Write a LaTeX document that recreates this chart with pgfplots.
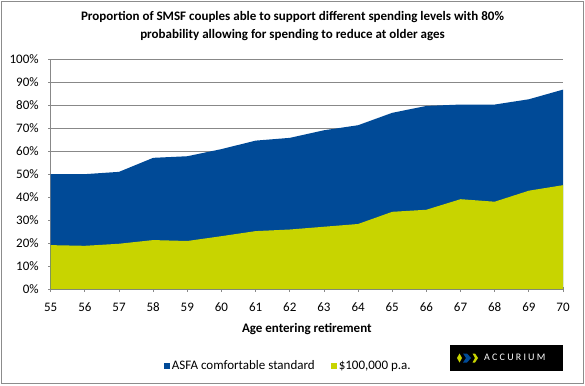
\documentclass[border=0pt]{standalone}
\usepackage{pgfplots}
\pgfplotsset{compat=1.18}
\usepackage{fontspec}
\setmainfont{Carlito}
\definecolor{asfablue}{HTML}{004A97}
\definecolor{pagreen}{HTML}{C8D400}
\definecolor{gridgray}{HTML}{888888}
\definecolor{bordergray}{HTML}{8C8C8C}
\begin{document}
\begin{tikzpicture}[x=1bp,y=1bp]
\path[use as bounding box] (0,0) rectangle (585,385);
\draw[bordergray, line width=1.2bp] (1.5,1.5) rectangle (583.5,383.5);
\begin{axis}[
  at={(50.7bp,96bp)}, anchor=south west,
  scale only axis, width=512.3bp, height=229.7bp,
  xmin=55, xmax=70, ymin=0, ymax=100,
  xtick={55,...,70}, ytick={0,10,...,100},
  yticklabel={\pgfmathprintnumber{\tick}\%},
  /pgf/number format/assume math mode=true,
  ticklabel style={font=\fontsize{13bp}{15bp}\selectfont, text=black},
  xticklabel style={yshift=-8bp},
  yticklabel style={xshift=-6bp},
  tick align=outside, major tick length=5bp,
  tick style={gridgray, line width=0.8bp},
  axis x line=bottom, axis y line=left,
  axis line style={gridgray, line width=0.8bp, -},
  ymajorgrids, grid style={gridgray, line width=0.8bp},
  xlabel={\bfseries Age entering retirement},
  xlabel style={font=\fontsize{13bp}{15bp}\selectfont, yshift=-5bp},
  legend columns=2,
  legend style={draw=none, fill=none, at={(110bp,-77bp)}, anchor=west,
    font=\fontsize{13bp}{15bp}\selectfont,
    /tikz/every even column/.append style={column sep=14bp}},
  legend image code/.code={\fill[#1] (0bp,-3bp) rectangle (6bp,3bp);},
]
\addplot[fill=asfablue, draw=none] coordinates {
(55,50.0) (56,50.0) (57,51.0) (58,57.1) (59,57.8) (60,60.9) (61,64.6) (62,65.8)
(63,69.1) (64,71.3) (65,76.7) (66,79.7) (67,80.3) (68,80.3) (69,82.6) (70,86.8)
} \closedcycle;
\addlegendentry{ASFA comfortable standard}
\addplot[fill=pagreen, draw=none] coordinates {
(55,19.1) (56,18.8) (57,19.7) (58,21.3) (59,20.9) (60,23.0) (61,25.2) (62,25.9)
(63,27.1) (64,28.3) (65,33.6) (66,34.5) (67,39.1) (68,38.0) (69,42.8) (70,45.2)
} \closedcycle;
\addlegendentry{\$100,000 p.a.}
\end{axis}
\node[font=\fontsize{13bp}{17.5bp}\selectfont\bfseries, align=center] at (292.5,359)
  {Proportion of SMSF couples able to support different spending levels with 80\%\\probability allowing for spending to reduce at older ages};
% logo
\fill[black] (450,14) rectangle (563,40);
\fill[pagreen] (457,27) -- (459.5,31.5) -- (462,27) -- (459.5,22.5) -- cycle;
\fill[asfablue] (463,31.5) -- (467,31.5) -- (471,27) -- (467,22.5) -- (463,22.5) -- (466,27) -- cycle;
\fill[pagreen] (472.5,31.5) -- (475,31.5) -- (478,27) -- (475,22.5) -- (472.5,22.5) -- (475,27) -- cycle;
\node[text=white, font=\fontsize{10bp}{12bp}\selectfont, anchor=west, inner sep=0pt] at (484,27.5)
  {A\hspace{2.2bp}C\hspace{2.2bp}C\hspace{2.2bp}U\hspace{2.2bp}R\hspace{2.2bp}I\hspace{2.2bp}U\hspace{2.2bp}M};
\end{tikzpicture}
\end{document}
